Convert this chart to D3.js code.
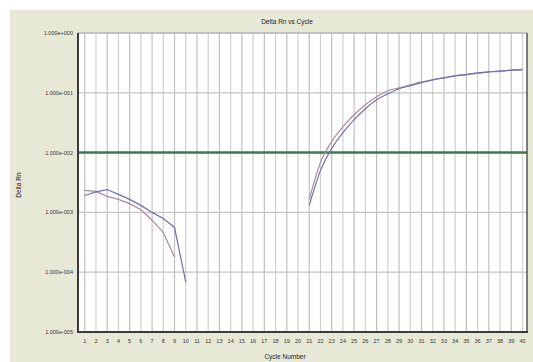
<!DOCTYPE html>
<html><head><meta charset="utf-8">
<script src="https://cdn.jsdelivr.net/npm/d3@7"></script>
<style>html,body{margin:0;padding:0;background:#fff;overflow:hidden}</style>
</head><body>
<script>
const cycles = d3.range(1, 41);
const yTickValues = [1e0, 1e-1, 1e-2, 1e-3, 1e-4, 1e-5];
const yTickLabels = ["1.000e+000", "1.000e-001", "1.000e-002", "1.000e-003", "1.000e-004", "1.000e-005"];
const threshold = 1e-2;

// early segment, cycles 1..10 (series A) and 1..9 (series B)
const earlyCyclesA = [1,2,3,4,5,6,7,8,9,10];
const earlyA = [1.92e-3, 2.2e-3, 2.41e-3, 2.0e-3, 1.65e-3, 1.31e-3, 1.0e-3, 7.9e-4, 5.6e-4, 6.8e-5];
const earlyCyclesB = [1,2,3,4,5,6,7,8,9];
const earlyB = [2.33e-3, 2.24e-3, 1.85e-3, 1.65e-3, 1.4e-3, 1.11e-3, 7.4e-4, 4.6e-4, 1.78e-4];

// amplification segment, cycles 21..40
const lateCycles = d3.range(21, 41);
const lateA = [1.31e-3, 5.0e-3, 1.17e-2, 2.15e-2, 3.55e-2, 5.41e-2, 7.64e-2, 9.6e-2, 0.117, 0.131,
               0.147, 0.165, 0.178, 0.192, 0.203, 0.215, 0.224, 0.233, 0.237, 0.242];
const lateB = [1.65e-3, 6.81e-3, 1.53e-2, 2.71e-2, 4.3e-2, 6.31e-2, 8.58e-2, 0.108, 0.121, 0.136,
               0.152, 0.165, 0.178, 0.192, 0.2, 0.211, 0.224, 0.228, 0.242, 0.247];

const W = 533, H = 362;
const L = 78, R = 527, T = 33, B = 332;
const svg = d3.select("body").append("svg").attr("width", W).attr("height", H)
  .style("display","block").style("font-family","Arial, 'Liberation Sans', sans-serif");

svg.append("rect").attr("x",10).attr("y",10).attr("width",W-10).attr("height",H-10).attr("fill","#e8e8d6");

const x = d3.scaleLinear().domain([0.4, 40.4]).range([L, R]);
const y = d3.scaleLog().domain([1e-5, 1]).range([B, T]);

svg.append("rect").attr("x",L).attr("y",T).attr("width",R-L).attr("height",B-T).attr("fill","#ffffff");

// vertical grid
svg.append("g").selectAll("line").data(cycles).join("line")
  .attr("x1", d=>x(d)).attr("x2", d=>x(d)).attr("y1", T).attr("y2", B)
  .attr("stroke", d => d%2 ? "#c0c0c0" : "#d0d0d0").attr("stroke-width", 1.2);
// horizontal grid
svg.append("g").selectAll("line").data(yTickValues).join("line")
  .attr("x1", L).attr("x2", R).attr("y1", d=>y(d)).attr("y2", d=>y(d))
  .attr("stroke", "#c4c4c4").attr("stroke-width", 1.2);

// threshold
svg.append("line").attr("x1", L).attr("x2", R).attr("y1", y(threshold)).attr("y2", y(threshold))
  .attr("stroke", "#3f7a4e").attr("stroke-width", 2.5);

// borders
svg.append("line").attr("x1",L).attr("x2",R).attr("y1",T).attr("y2",T).attr("stroke","#aaa").attr("stroke-width",1);
svg.append("line").attr("x1",R).attr("x2",R).attr("y1",T).attr("y2",B).attr("stroke","#555").attr("stroke-width",1.5);
svg.append("line").attr("x1",L).attr("x2",L).attr("y1",T).attr("y2",B+1).attr("stroke","#3a3a3a").attr("stroke-width",2);
svg.append("line").attr("x1",L-1).attr("x2",R+1).attr("y1",B).attr("y2",B).attr("stroke","#3a3a3a").attr("stroke-width",2);

const lineLin = d3.line().x(d=>x(d[0])).y(d=>y(d[1]));
const lineSmooth = d3.line().x(d=>x(d[0])).y(d=>y(d[1])).curve(d3.curveMonotoneX);
const colA = "#7070b0", colB = "#a88c9c";
function draw(cs, vs, col, gen){
  svg.append("path").datum(cs.map((c,i)=>[c, vs[i]])).attr("d", gen)
    .attr("fill","none").attr("stroke",col).attr("stroke-width",1.2);
}
draw(earlyCyclesB, earlyB, colB, lineLin);
draw(earlyCyclesA, earlyA, colA, lineLin);
draw(lateCycles, lateB, colB, lineSmooth);
draw(lateCycles, lateA, colA, lineSmooth);

// y tick labels
svg.append("g").selectAll("text").data(yTickValues).join("text")
  .attr("x", L-5).attr("y", d=>y(d)+2).attr("text-anchor","end")
  .attr("font-size", 5.5).attr("fill","#333").text((d,i)=>yTickLabels[i]);
// x tick labels
svg.append("g").selectAll("text").data(cycles).join("text")
  .attr("x", d=>x(d)).attr("y", B+11).attr("text-anchor","middle")
  .attr("font-size", 5.5).attr("fill","#333").text(d=>d);

svg.append("text").attr("x", 287).attr("y", 24).attr("text-anchor","middle")
  .attr("font-size", 6.5).attr("fill","#222").text("Delta Rn vs Cycle");
svg.append("text").attr("transform","translate(21,185) rotate(-90)").attr("text-anchor","middle")
  .attr("font-size", 6.5).attr("fill","#222").text("Delta Rn");
svg.append("text").attr("x", 285).attr("y", 359).attr("text-anchor","middle")
  .attr("font-size", 6.5).attr("fill","#222").text("Cycle Number");
</script>
</body></html>
